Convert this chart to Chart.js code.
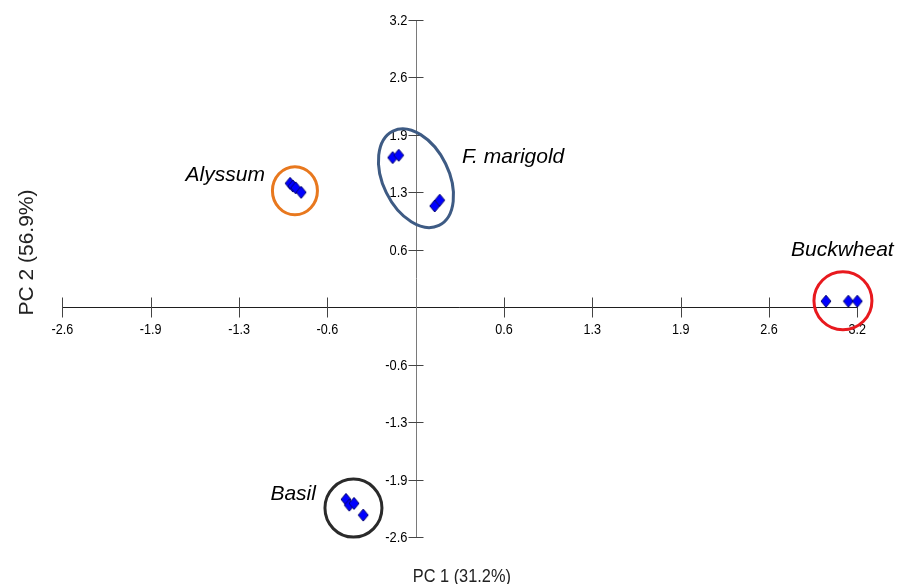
<!DOCTYPE html>
<html>
<head>
<meta charset="utf-8">
<script src="https://cdn.jsdelivr.net/npm/chart.js@4.4.1/dist/chart.umd.min.js"></script>
<style>
  html, body { margin: 0; padding: 0; background: #fff; }
  canvas { display: block; }
</style>
</head>
<body>
<canvas id="pca-chart" width="901" height="584"></canvas>
<script>
// PCA scores per species (PC1, PC2)
const groupNames = ['Alyssum', 'F. marigold', 'Basil', 'Buckwheat'];

const alyssumPC1 = [-0.91, -0.89, -0.87, -0.83];
const alyssumPC2 = [1.38, 1.35, 1.33, 1.28];

const marigoldPC1 = [-0.167, -0.123, 0.138, 0.174];
const marigoldPC2 = [1.667, 1.693, 1.128, 1.192];

const basilPC1 = [-0.505, -0.481, -0.447, -0.380];
const basilPC2 = [-2.141, -2.205, -2.186, -2.316];

const buckwheatPC1 = [2.973, 3.135, 3.20];
const buckwheatPC2 = [0.067, 0.067, 0.067];

// tick values and their printed labels
const xTickValues = [-2.56, -1.92, -1.28, -0.64, 0.64, 1.28, 1.92, 2.56, 3.2];
const xTickLabels = ['-2.6', '-1.9', '-1.3', '-0.6', '0.6', '1.3', '1.9', '2.6', '3.2'];
const yTickValues = [3.2, 2.56, 1.92, 1.28, 0.64, -0.64, -1.28, -1.92, -2.56];
const yTickLabels = ['3.2', '2.6', '1.9', '1.3', '0.6', '-0.6', '-1.3', '-1.9', '-2.6'];

const xTitle = 'PC 1 (31.2%)';
const yTitle = 'PC 2 (56.9%)';

// Lingkaran kelompok: pusat dalam koordinat data
const rings = [
    { name: 'Alyssum', cx: -0.875, cy: 1.297, rx: 22.5, ry: 24, rot: 0, color: '#e8781e', tx: -30, ty: -10, align: 'right' },
    { name: 'F. marigold', cx: 0.002, cy: 1.437, rx: 52.5, ry: 33, rot: 64 * Math.PI / 180, color: '#3e5b84', tx: 46, ty: -15, align: 'left' },
    { name: 'Basil', cx: -0.451, cy: -2.238, rx: 28.5, ry: 29, rot: 0, color: '#2a2a2a', tx: -37.5, ty: -8, align: 'right' },
    { name: 'Buckwheat', cx: 3.096, cy: 0.072, rx: 29, ry: 29, rot: 0, color: '#e8191e', tx: -52, ty: -44.5, align: 'left' }
];

const toPoints = (xs, ys) => xs.map((x, i) => ({ x: x, y: ys[i] }));

// sprite diamond (sedikit lebih tinggi dari lebarnya)
function diamondSprite(w, h) {
    const c = document.createElement('canvas');
    c.width = w + 2;
    c.height = h + 2;
    const g = c.getContext('2d');
    g.beginPath();
    g.moveTo(c.width / 2, 1);
    g.lineTo(c.width - 1, c.height / 2);
    g.lineTo(c.width / 2, c.height - 1);
    g.lineTo(1, c.height / 2);
    g.closePath();
    g.fillStyle = '#0000ff';
    g.fill();
    g.strokeStyle = '#000070';
    g.lineWidth = 1;
    g.stroke();
    return c;
}
const diamond = diamondSprite(10, 12);

function drawText(ctx, text, x, y, font, align, sx) {
    ctx.save();
    ctx.translate(x, y);
    ctx.scale(sx, 1);
    ctx.font = font;
    ctx.textAlign = align;
    ctx.fillText(text, 0, 0);
    ctx.restore();
}

const crossAxes = {
    id: 'crossAxes',
    beforeDatasetsDraw(chart) {
        const ctx = chart.ctx;
        const xs = chart.scales.x;
        const ys = chart.scales.y;
        const x0 = Math.round(xs.getPixelForValue(0)) + 0.5;
        const y0 = Math.round(ys.getPixelForValue(0)) + 0.5;
        const tickFont = '14px "Liberation Sans", Arial, sans-serif';

        ctx.save();
        ctx.lineWidth = 1;

        // horizontal axis
        ctx.strokeStyle = '#1e1e1e';
        ctx.beginPath();
        ctx.moveTo(xs.getPixelForValue(xs.min), y0);
        ctx.lineTo(xs.getPixelForValue(xs.max), y0);
        ctx.stroke();
        ctx.strokeStyle = '#444';
        xTickValues.forEach(v => {
            const px = Math.round(xs.getPixelForValue(v)) + 0.5;
            ctx.beginPath();
            ctx.moveTo(px, y0 - 10);
            ctx.lineTo(px, y0 + 10);
            ctx.stroke();
        });

        // vertical axis
        ctx.strokeStyle = '#7a7a7a';
        ctx.beginPath();
        ctx.moveTo(x0, ys.getPixelForValue(ys.max));
        ctx.lineTo(x0, ys.getPixelForValue(ys.min));
        ctx.stroke();
        ctx.strokeStyle = '#444';
        yTickValues.forEach(v => {
            const py = Math.round(ys.getPixelForValue(v)) + 0.5;
            ctx.beginPath();
            ctx.moveTo(x0 - 8, py);
            ctx.lineTo(x0 + 7, py);
            ctx.stroke();
        });

        // tick labels
        ctx.fillStyle = '#000';
        ctx.textBaseline = 'alphabetic';
        xTickValues.forEach((v, i) => {
            drawText(ctx, xTickLabels[i], xs.getPixelForValue(v), y0 + 26, tickFont, 'center', 0.9);
        });
        yTickValues.forEach((v, i) => {
            drawText(ctx, yTickLabels[i], x0 - 9, ys.getPixelForValue(v) + 5, tickFont, 'right', 0.92);
        });

        // axis titles
        ctx.fillStyle = '#222';
        drawText(ctx, xTitle, (xs.left + xs.right) / 2 + 2, 581.5, '19px "Liberation Sans", Arial, sans-serif', 'center', 0.86);
        ctx.save();
        ctx.translate(33, 252.5);
        ctx.rotate(-Math.PI / 2);
        ctx.font = '21px "Liberation Sans", Arial, sans-serif';
        ctx.textAlign = 'center';
        ctx.fillText(yTitle, 0, 0);
        ctx.restore();

        // group rings and names
        ctx.lineWidth = 3;
        rings.forEach(r => {
            const cx = xs.getPixelForValue(r.cx);
            const cy = ys.getPixelForValue(r.cy);
            ctx.strokeStyle = r.color;
            ctx.beginPath();
            ctx.ellipse(cx, cy, r.rx, r.ry, r.rot, 0, Math.PI * 2);
            ctx.stroke();
            ctx.fillStyle = '#000';
            drawText(ctx, r.name, cx + r.tx, cy + r.ty, 'italic 21px "Liberation Sans", Arial, sans-serif', r.align, 1);
        });

        ctx.restore();
    }
};

const pcaDatasets = [
    toPoints(alyssumPC1, alyssumPC2),
    toPoints(marigoldPC1, marigoldPC2),
    toPoints(basilPC1, basilPC2),
    toPoints(buckwheatPC1, buckwheatPC2)
].map((pts, i) => ({
    label: groupNames[i],
    data: pts,
    pointStyle: diamond,
    pointRadius: 5,
    clip: false
}));

new Chart(document.getElementById('pca-chart'), {
    type: 'scatter',
    data: { datasets: pcaDatasets },
    options: {
        responsive: false,
        animation: false,
        layout: { padding: { left: 62.4, right: 43.7, top: 20, bottom: 47 } },
        scales: {
            x: { type: 'linear', display: false, min: -2.56, max: 3.2 },
            y: { type: 'linear', display: false, min: -2.56, max: 3.2 }
        },
        plugins: {
            legend: { display: false },
            tooltip: { enabled: false }
        }
    },
    plugins: [crossAxes]
});
</script>
</body>
</html>
